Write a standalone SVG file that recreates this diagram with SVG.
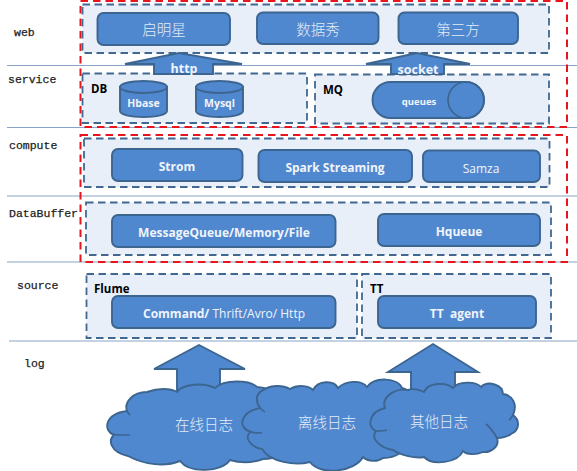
<svg xmlns="http://www.w3.org/2000/svg" width="577" height="471" viewBox="0 0 577 471">
<style>
.sep{stroke:#88a4c8;stroke-width:1.2;fill:none}
.grp{fill:#e9eff9;stroke:#416891;stroke-width:1.8;stroke-dasharray:7.500 4.500}
.red{fill:none;stroke:#e8141e;stroke-width:2;stroke-dasharray:7.500 5}
.n{fill:#5088d0;stroke:#3c6590;stroke-width:1.9}
.n2{fill:none;stroke:#3c6590;stroke-width:1.7}
.lay{font-family:"Liberation Mono","Noto Sans CJK SC",monospace;font-size:11.500px;fill:#222;stroke:#222;stroke-width:.25}
.t{font-family:"Open Sans","Noto Sans",sans-serif;font-size:12px;fill:#f0f4fa;text-anchor:middle;font-weight:bold}
.c{font-family:"Noto Sans CJK SC",sans-serif;font-size:14.500px;fill:#e4ebf5;text-anchor:middle;font-weight:300}
.h{font-family:"Open Sans","Noto Sans",sans-serif;font-size:11.500px;fill:#000;font-weight:bold}
</style>
<rect width="577" height="471" fill="#fff"/>
<g id="separators">
<path class="sep" d="M7 65.500H577M7 127.500H577M7 196H577M7 262H577M9 341H577"/>
</g>
<g id="layer-labels">
<text class="lay" x="14" y="36">web</text>
<text class="lay" x="8" y="83">service</text>
<text class="lay" x="9" y="149">compute</text>
<text class="lay" x="9" y="217">DataBuffer</text>
<text class="lay" x="17" y="289">source</text>
<text class="lay" x="24" y="367">log</text>
</g>
<g id="group-web"><rect class="grp" x="82.500" y="4.500" width="466.500" height="48.500"/></g>
<g id="group-db"><rect class="grp" x="82.500" y="73.500" width="224.500" height="49.500"/><text class="h" x="91" y="92.500">DB</text></g>
<g id="group-mq"><rect class="grp" x="315" y="74.500" width="234" height="49"/><text class="h" x="323" y="94">MQ</text></g>
<g id="group-compute"><rect class="grp" x="84" y="138.500" width="465.500" height="48.500"/></g>
<g id="group-databuffer"><rect class="grp" x="86" y="202.500" width="465" height="52.500"/></g>
<g id="group-flume"><rect class="grp" x="86.500" y="274" width="270.500" height="64"/><text class="h" x="94" y="292.500">Flume</text></g>
<g id="group-tt"><rect class="grp" x="362" y="274" width="189" height="64"/><text class="h" x="370" y="292.500">TT</text></g>
<g id="connectors">
<path class="n" d="M125 64L179 53L242 64H213V74H154V64Z"/>
<path class="n" d="M366 64L417 53L470 64H444V74H391V64Z"/>
<path class="n" d="M154 369L199 345L245 369H220V400H177V369Z"/>
<path class="n" d="M388 372L433 344L478 372H455V400H411V372Z"/>
<text class="t" x="184" y="73" style="font-size:12.500px">http</text>
<text class="t" x="418" y="73.500" style="font-size:12.500px">socket</text>
</g>
<g id="node-qimingxing"><rect class="n" x="97.500" y="13" width="132.500" height="32" rx="6"/><text class="c" x="164" y="35">启明星</text></g>
<g id="node-shujuxiu"><rect class="n" x="257" y="12.500" width="121.500" height="31.500" rx="6"/><text class="c" x="318" y="35">数据秀</text></g>
<g id="node-disanfang"><rect class="n" x="398.500" y="12.500" width="119.500" height="31.500" rx="6"/><text class="c" x="458" y="34.500">第三方</text></g>
<g id="node-hbase"><path class="n" d="M120 87V111C120 114.500 130.500 117 143.500 117S167 114.500 167 111V87Z"/><ellipse class="n" cx="143.500" cy="87" rx="23.500" ry="6"/><text class="t" x="143.500" y="107" style="font-size:10.500px">Hbase</text></g>
<g id="node-mysql"><path class="n" d="M196 87V111C196 114.500 206.500 117 219.500 117S243 114.500 243 111V87Z"/><ellipse class="n" cx="219.500" cy="87" rx="23.500" ry="6"/><text class="t" x="219.500" y="107" style="font-size:10.500px">Mysql</text></g>
<g id="node-queues"><rect class="n" x="372.500" y="82" width="111.500" height="36" rx="18"/><ellipse class="n2" cx="466" cy="100" rx="18" ry="18"/><text class="t" x="419" y="105" style="font-size:9.500px">queues</text></g>
<g id="node-strom"><rect class="n" x="112" y="149" width="130.500" height="32" rx="6"/><text class="t" x="177" y="171">Strom</text></g>
<g id="node-spark"><rect class="n" x="258.500" y="150" width="153.500" height="32" rx="6"/><text class="t" x="335" y="172">Spark Streaming</text></g>
<g id="node-samza"><rect class="n" x="423" y="150.500" width="117" height="31.500" rx="6"/><text class="t" x="481" y="173" style="font-weight:normal">Samza</text></g>
<g id="node-messagequeue"><rect class="n" x="112" y="215" width="223.500" height="32" rx="6"/><text class="t" x="224" y="237">MessageQueue/Memory/File</text></g>
<g id="node-hqueue"><rect class="n" x="378" y="214" width="162" height="32" rx="6"/><text class="t" x="459" y="236">Hqueue</text></g>
<g id="node-command"><rect class="n" x="112" y="296" width="223.500" height="32" rx="6"/><text class="t" x="224" y="318">Command/<tspan style="font-weight:normal"> Thrift/Avro/ Http</tspan></text></g>
<g id="node-ttagent"><rect class="n" x="378" y="296" width="158" height="32" rx="6"/><text class="t" x="457" y="318" xml:space="preserve">TT  agent</text></g>
<g id="node-log-online">
<path class="n" d="M127 411C124 403 132 392 147 392C158 388 170 388 177 392C183 384 203 382 215 388C224 379 250 380 257 387C275 388 290 400 292 420C300 440 290 458 263 459C252 463 240 463 230 460C222 472 190 474 180 461C165 467 145 465 128 456C110 452 108 440 114 435C103 431 104 414 127 411Z"/>
<path class="n2" d="M113 434.500C118 435 124 435 130 435M127 411C128 413 129 414 130 415"/>
<text class="c" x="204" y="430">在线日志</text>
</g>
<g id="node-log-offline">
<path class="n" d="M260 392C270 384 283 385 290 389C298 384 310 386 313 390C318 380 334 380 338 388C346 380 362 380 367 387C375 376 398 378 402 388C420 394 425 420 410 440C405 452 395 458 383 458C378 462 368 462 363 457C355 472 320 476 310 462C295 466 270 462 262 449C250 447 243 436 251 432C237 428 240 412 260 408C256 402 256 396 260 392Z"/>
<path class="n2" d="M250 432C254 433 258 433 262 433M260 408C262 410 263 411 265 412"/>
<text class="c" x="327" y="428">离线日志</text>
</g>
<g id="node-log-other">
<path class="n" d="M385 408C381 397 395 388 408 390C414 388 420 390 424 392C428 382 446 382 453 388C458 381 476 381 481 387C488 380 503 385 503 394C512 395 518 404 513 415C520 420 520 430 511 434C506 438 500 438 497 438C500 447 490 453 483 452C476 455 467 455 463 451C458 463 432 466 424 457C416 459 400 455 393 450C380 448 370 438 376 431C367 428 368 412 385 408Z"/>
<path class="n2" d="M376 431C380 431 384 431 387 430M497 438C494 433 490 427 486 424M513 415C512 417 511 419 509 420"/>
<text class="c" x="439" y="427">其他日志</text>
</g>
<g id="red-boxes">
<rect class="red" x="80.500" y="1" width="486.500" height="126"/>
<rect class="red" x="80.500" y="135" width="486.500" height="127"/>
</g>
</svg>
